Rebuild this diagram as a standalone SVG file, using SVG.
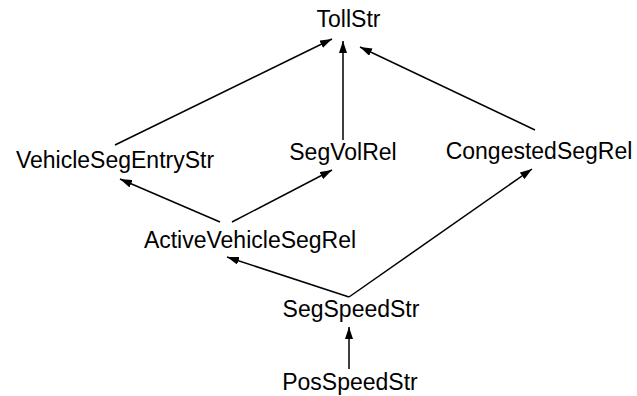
<svg xmlns="http://www.w3.org/2000/svg" width="637" height="396" viewBox="0 0 637 396">
<defs>
<style>
text{font-family:"Liberation Sans",Arial,sans-serif;font-size:23px;fill:#000;text-anchor:middle}
.e{stroke:#000;stroke-width:1.5;fill:none;marker-end:url(#ah)}
</style>
<marker id="ah" viewBox="0 0 12 8" refX="12" refY="4" markerWidth="12" markerHeight="8" markerUnits="userSpaceOnUse" orient="auto">
<path d="M0,0 L12,4 L0,8 Z" fill="#000"/>
</marker>
</defs>
<rect width="637" height="396" fill="#fff"/>
<g id="edges">
<line class="e" x1="115" y1="145" x2="332" y2="39"/>
<line class="e" x1="343" y1="140" x2="343" y2="41"/>
<line class="e" x1="535" y1="130" x2="360" y2="47"/>
<line class="e" x1="220" y1="222" x2="120" y2="179"/>
<line class="e" x1="232" y1="222" x2="332" y2="170"/>
<line class="e" x1="349" y1="297" x2="227" y2="257"/>
<line class="e" x1="349" y1="297" x2="532" y2="169"/>
<line class="e" x1="349" y1="369" x2="349" y2="327"/>
</g>
<g id="TollStr"><text x="348.5" y="27">TollStr</text></g>
<g id="VehicleSegEntryStr"><text x="115" y="168">VehicleSegEntryStr</text></g>
<g id="SegVolRel"><text x="343" y="160">SegVolRel</text></g>
<g id="CongestedSegRel"><text x="539" y="159">CongestedSegRel</text></g>
<g id="ActiveVehicleSegRel"><text x="250" y="248">ActiveVehicleSegRel</text></g>
<g id="SegSpeedStr"><text x="351" y="317">SegSpeedStr</text></g>
<g id="PosSpeedStr"><text x="350" y="390">PosSpeedStr</text></g>
</svg>
